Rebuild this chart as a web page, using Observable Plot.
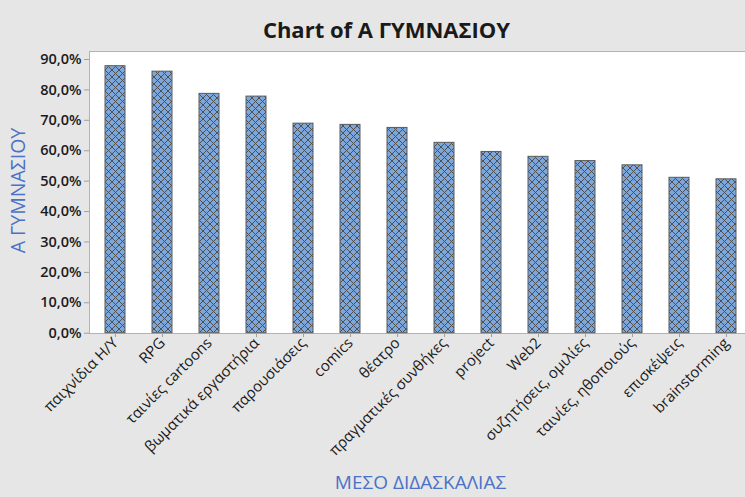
<!DOCTYPE html>
<html>
<head>
<meta charset="utf-8">
<script src="https://cdn.jsdelivr.net/npm/d3@7"></script>
<script src="https://cdn.jsdelivr.net/npm/@observablehq/plot@0.6"></script>
<style>
  html, body { margin: 0; padding: 0; background: #e6e6e6; }
  #chart svg { display: block; }
</style>
</head>
<body>
<div id="chart"></div>
<script>
const categories = [
  "παιχνίδια Η/Υ", "RPG", "ταινίες cartoons", "βωματικά εργαστήρια",
  "παρουσιάσεις", "comics", "θέατρο", "πραγματικές συνθήκες",
  "project", "Web2", "συζητήσεις, ομιλίες", "ταινίες, ηθοποιούς",
  "επισκέψεις", "brainstorming"
];
const values = [0.878, 0.860, 0.787, 0.778, 0.689, 0.685, 0.675, 0.626, 0.596, 0.580, 0.566, 0.552, 0.511, 0.506];
const yTicks = [0, 0.1, 0.2, 0.3, 0.4, 0.5, 0.6, 0.7, 0.8, 0.9];
const titleText = "Chart of A ΓΥΜΝΑΣΙΟΥ";
const yLabel = "Α ΓΥΜΝΑΣΙΟΥ";
const xLabel = "ΜΕΣΟ ΔΙΔΑΣΚΑΛΙΑΣ";

const data = categories.map((c, i) => ({category: c, value: values[i]}));
const fmt = d => (d * 100).toFixed(1).replace(".", ",") + "%";

const font = "'Open Sans', 'Noto Sans', sans-serif";

const chart = Plot.plot({
  width: 745,
  height: 497,
  marginLeft: 89,
  marginTop: 51,
  marginBottom: 164,
  marginRight: 0,
  style: {background: "transparent", fontFamily: font, color: "#1a1a1a"},
  x: {domain: categories, range: [90.4, 750.5], paddingInner: 0.58, paddingOuter: 0.29, label: null},
  y: {domain: [0, 0.9], range: [332.7, 59], label: null},
  marks: [
    Plot.frame({fill: "white", stroke: "#b3b3b3"}),
    Plot.barY(data, {x: "category", y: "value", fill: "url(#hatch)", stroke: "#5a5a5a", strokeWidth: 1}),
    Plot.axisY({ticks: yTicks, tickFormat: fmt, tickSize: 5, tickPadding: 3, stroke: "#a0a0a0",
      fontSize: 14.5, fontWeight: 600, fill: "#1a1a1a", label: null}),
    Plot.axisX({tickSize: 4, tickPadding: 3, tickRotate: -45, stroke: "#a0a0a0",
      fontSize: 15, fill: "#1a1a1a", label: null}),
    Plot.text([titleText], {frameAnchor: "top", dx: -31, dy: -29, fontSize: 22, fontWeight: 700, fill: "#1a1a1a"}),
    Plot.text([yLabel], {frameAnchor: "left", textAnchor: "middle", dx: -71, dy: -2, rotate: -90, fontSize: 19.5, fill: "#4a72c8"}),
    Plot.text([xLabel], {frameAnchor: "bottom", textAnchor: "middle", dx: 3, dy: 155, fontSize: 19, fontWeight: 500, fill: "#4a72c8"})
  ]
});

const ns = "http://www.w3.org/2000/svg";
const defs = document.createElementNS(ns, "defs");
defs.innerHTML = `
  <pattern id="hatch" patternUnits="userSpaceOnUse" width="7" height="7">
    <rect width="7" height="7" fill="#7ba7dc"></rect>
    <path d="M-1,1 L1,-1 M0,7 L7,0 M6,8 L8,6" stroke="#505050" stroke-width="1"></path>
    <path d="M-1,6 L1,8 M0,0 L7,7 M6,-1 L8,1" stroke="#505050" stroke-width="1"></path>
  </pattern>`;
chart.insertBefore(defs, chart.firstChild);
document.getElementById("chart").appendChild(chart);
</script>
</body>
</html>
